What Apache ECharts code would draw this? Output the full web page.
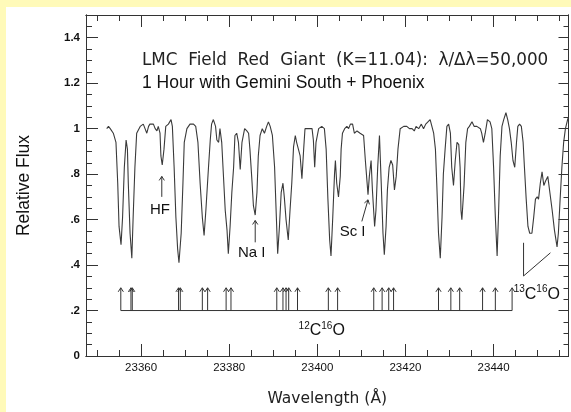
<!DOCTYPE html>
<html>
<head>
<meta charset="utf-8">
<script src="https://cdn.jsdelivr.net/npm/echarts@6/dist/echarts.min.js"></script>
<style>
html,body{margin:0;padding:0;background:#fffab9;width:571px;height:412px;overflow:hidden;}
#chart{position:absolute;left:6px;top:7px;width:565px;height:405px;background:#fff;}
</style>
</head>
<body>
<div id="chart"></div>
<script>
// ---- data ----
const wavelength = [23352.2,23352.6,23353.0,23353.7,23354.3,23354.7,23355.0,23355.45,23355.8,23356.2,23356.6,23356.9,23357.1,23357.5,23357.9,23358.2,23358.6,23359.0,23359.8,23360.5,23360.9,23361.3,23361.7,23362.0,23362.8,23363.2,23363.6,23363.9,23364.3,23364.5,23364.8,23365.2,23365.6,23366.2,23366.8,23367.1,23367.5,23367.9,23368.3,23368.6,23369.1,23369.5,23369.8,23370.4,23371.1,23371.9,23372.4,23372.9,23373.4,23373.9,23374.3,23374.7,23375.3,23375.7,23376.0,23376.4,23376.9,23377.2,23377.6,23377.9,23378.3,23378.7,23379.1,23379.5,23379.8,23380.2,23380.6,23381.0,23381.3,23381.7,23382.1,23382.5,23382.9,23383.5,23384.0,23384.4,23384.7,23385.1,23385.5,23385.9,23386.3,23386.6,23387.0,23387.5,23388.0,23388.5,23388.9,23389.3,23389.8,23390.3,23390.7,23391.0,23391.4,23391.8,23392.2,23392.5,23392.9,23393.4,23393.8,23394.2,23394.6,23395.0,23395.3,23395.7,23396.1,23396.5,23396.9,23397.2,23398.0,23398.8,23399.1,23399.4,23399.7,23400.3,23401.0,23401.6,23402.0,23402.4,23402.8,23403.1,23403.5,23403.9,23404.1,23404.4,23404.8,23405.2,23405.4,23405.7,23406.2,23406.7,23407.1,23407.5,23408.0,23408.4,23409.0,23409.7,23410.5,23410.9,23411.3,23411.5,23411.8,23412.2,23412.5,23413.0,23413.3,23413.7,23414.1,23414.5,23414.9,23415.2,23415.6,23415.9,23416.3,23416.7,23417.1,23417.5,23417.9,23418.3,23418.8,23419.6,23420.3,23420.9,23421.5,23422.0,23422.4,23423.0,23423.6,23424.1,23424.6,23425.6,23426.0,23426.4,23426.8,23427.1,23427.5,23427.9,23428.3,23428.6,23429.0,23429.4,23429.8,23430.2,23430.5,23430.9,23431.3,23431.7,23432.1,23432.4,23432.6,23432.8,23433.3,23433.7,23434.1,23434.5,23435.1,23435.6,23436.2,23437.0,23437.3,23437.7,23438.1,23438.6,23439.2,23439.6,23440.0,23440.4,23440.8,23441.1,23441.5,23441.9,23442.3,23442.8,23443.2,23443.6,23444.0,23444.4,23444.8,23445.2,23445.5,23445.9,23446.3,23446.7,23447.0,23447.4,23447.8,23448.2,23448.7,23449.1,23449.5,23449.9,23450.2,23450.6,23451.0,23451.4,23451.8,23452.3,23452.7,23453.3,23453.8,23454.4,23454.7,23455.1,23455.5,23455.9,23456.3,23456.8,23457.0];
const flux = [1.00,1.01,1.00,0.98,0.94,0.76,0.57,0.49,0.61,0.83,0.95,0.91,0.76,0.54,0.43,0.61,0.83,0.98,1.01,1.02,1.00,0.98,1.01,1.02,1.02,1.00,0.99,1.01,0.98,0.88,0.84,0.91,1.01,1.02,1.04,1.01,0.83,0.61,0.47,0.41,0.54,0.76,0.94,1.00,1.02,1.02,1.01,0.94,0.76,0.61,0.53,0.64,0.83,0.95,1.02,1.04,1.01,0.95,0.94,1.00,0.94,0.79,0.64,0.555,0.45,0.57,0.72,0.83,0.97,0.98,0.94,0.82,0.94,1.00,0.99,0.98,0.91,0.79,0.66,0.62,0.72,0.88,0.97,1.00,0.98,1.01,1.03,1.01,0.97,0.83,0.61,0.45,0.57,0.72,0.76,0.70,0.60,0.51,0.64,0.76,0.92,0.97,0.94,0.91,0.88,0.78,0.91,1.00,1.00,1.00,0.95,0.83,0.94,1.00,1.01,1.00,0.91,0.69,0.51,0.44,0.61,0.80,0.86,0.76,0.70,0.79,0.91,0.98,1.00,1.01,1.00,1.02,1.02,0.98,0.99,0.98,0.97,0.86,0.76,0.71,0.79,0.86,0.73,0.57,0.64,0.83,0.97,0.76,0.54,0.445,0.57,0.73,0.83,0.86,0.84,0.73,0.79,0.91,1.00,1.01,1.01,1.00,1.00,0.99,1.01,1.00,1.02,1.00,1.02,1.04,1.01,0.98,0.91,0.76,0.54,0.43,0.61,0.80,0.91,1.01,1.02,0.98,0.83,0.75,0.86,0.94,0.93,0.83,0.64,0.60,0.75,0.94,1.00,1.01,1.03,1.01,1.01,1.00,0.98,0.94,0.98,1.04,1.03,1.00,0.83,0.61,0.44,0.61,0.88,1.01,1.04,1.07,1.04,1.00,0.94,0.86,0.83,0.94,1.01,1.02,1.01,0.94,0.83,0.69,0.57,0.54,0.54,0.61,0.69,0.70,0.69,0.76,0.81,0.75,0.77,0.79,0.73,0.64,0.555,0.48,0.54,0.69,0.83,0.94,1.00,1.04,1.05];

// 12C16O line positions (arrows) and the marker levels
const coLineX = [23355.4,23357.7,23358.0,23368.5,23368.9,23373.9,23375.1,23379.3,23380.4,23390.8,23392.2,23392.9,23393.5,23395.5,23402.5,23404.6,23412.8,23414.7,23416.2,23417.3,23427.5,23430.3,23432.3,23437.5,23440.4,23444.2];
const coBaseY = 0.2;
const coTopY = 0.3;

// feature arrows: [x1, y1, x2, y2]
const featureArrows = [
  [23364.7, 0.70, 23364.7, 0.79],
  [23385.9, 0.50, 23385.9, 0.596],
  [23410.1, 0.592, 23411.5, 0.687]
];
// 13C16O bracket
const bracket13 = [[23446.8, 0.498], [23446.8, 0.352], [23452.9, 0.454]];

// annotation labels
const labelText = ['HF', 'Na I', 'Sc I', '{s|12}{b|C}{s|16}{b|O}', '{s|13}{b|C}{s|16}{b|O}'];
const labelX = [23364.3, 23385.1, 23408.0, 23401.0, 23449.8];
const labelY = [0.643, 0.454, 0.548, 0.115, 0.275];

// axes
const xMin = 23347.5, xMax = 23457;
const yMin = 0, yMax = 1.5;
const xMajor = [23360, 23380, 23400, 23420, 23440];
const xMinor = [23350,23355,23360,23365,23370,23375,23380,23385,23390,23395,23400,23405,23410,23415,23420,23425,23430,23435,23440,23445,23450,23455];
const yMajor = [0, 0.2, 0.4, 0.6, 0.8, 1, 1.2, 1.4];
const yMinor = [0,0.05,0.1,0.15,0.2,0.25,0.3,0.35,0.4,0.45,0.5,0.55,0.6,0.65,0.7,0.75,0.8,0.85,0.9,0.95,1,1.05,1.1,1.15,1.2,1.25,1.3,1.35,1.4,1.45];
const xTickLabels = ['23360', '23380', '23400', '23420', '23440'];
const yTickLabels = ['0', '.2', '.4', '.6', '.8', '1', '1.2', '1.4'];

const titleLine1 = 'LMC  Field  Red  Giant  (K=11.04):  λ/Δλ=50,000';
const titleLine2 = '1 Hour with Gemini South + Phoenix';

// ---- chart ----
const ink = '#222';
const chart = echarts.init(document.getElementById('chart'), null, {renderer: 'canvas'});

function findLabel(list, labels, v) {
  const i = list.findIndex(m => Math.abs(m - v) < 1e-6);
  return i >= 0 ? labels[i] : '';
}

function xAxisDef(pos, ticks, len, withLabel, extra) {
  return Object.assign({
    type: 'value', min: xMin, max: xMax, position: pos,
    axisLine: {show: true, onZero: false, lineStyle: {color: '#333', width: 1}},
    axisTick: {show: true, inside: true, length: len, customValues: ticks, lineStyle: {color: '#333', width: 1}},
    axisLabel: withLabel ? {show: true, customValues: xMajor, margin: 6, fontSize: 11.5, color: '#111', fontFamily: 'Liberation Sans',
      formatter: v => findLabel(xMajor, xTickLabels, v)} : {show: false},
    splitLine: {show: false}
  }, extra || {});
}
function yAxisDef(pos, ticks, len, withLabel, extra) {
  return Object.assign({
    type: 'value', min: yMin, max: yMax, position: pos,
    axisLine: {show: true, onZero: false, lineStyle: {color: '#333', width: 1}},
    axisTick: {show: true, inside: true, length: len, customValues: ticks, lineStyle: {color: '#333', width: 1}},
    axisLabel: withLabel ? {
      show: true, customValues: yMajor, margin: 6, fontSize: 11.5, color: '#111', fontWeight: 'bold', fontFamily: 'Liberation Sans',
      formatter: v => findLabel(yMajor, yTickLabels, v)
    } : {show: false},
    splitLine: {show: false}
  }, extra || {});
}

function arrowRender(params, api) {
  const a = api.coord([api.value(0), api.value(1)]);
  const b = api.coord([api.value(2), api.value(3)]);
  const dx = b[0] - a[0], dy = b[1] - a[1];
  const L = Math.hypot(dx, dy) || 1;
  const ux = dx / L, uy = dy / L;
  const h = 4, w = 2.6;
  const p1 = [b[0] - ux * h - uy * w, b[1] - uy * h + ux * w];
  const p2 = [b[0] - ux * h + uy * w, b[1] - uy * h - ux * w];
  return {
    type: 'group',
    children: [
      {type: 'line', shape: {x1: a[0], y1: a[1], x2: b[0], y2: b[1]}, style: {stroke: '#333', lineWidth: 1}},
      {type: 'polyline', shape: {points: [p1, b, p2]}, style: {stroke: '#333', fill: null, lineWidth: 1}}
    ]
  };
}

const option = {
  backgroundColor: '#fff',
  animation: false,
  title: [
    {text: titleLine1, left: 136, top: 45, padding: 0,
     textStyle: {fontFamily: 'DejaVu Sans', fontSize: 16.8, fontWeight: 'normal', color: ink, lineHeight: 17}},
    {text: titleLine2, left: 136, top: 67, padding: 0,
     textStyle: {fontFamily: 'Liberation Sans', fontSize: 17.5, fontWeight: 'normal', color: '#111', lineHeight: 18}}
  ],
  grid: {left: 80, right: 2.5, top: 8, bottom: 56, containLabel: false},
  xAxis: [
    xAxisDef('bottom', xMajor, 12, true, {name: 'Wavelength (Å)', nameLocation: 'middle', nameGap: 35,
      nameTextStyle: {fontFamily: 'DejaVu Sans', fontSize: 15.5, color: ink}}),
    xAxisDef('bottom', xMinor, 6, false),
    xAxisDef('top', xMajor, 12, false),
    xAxisDef('top', xMinor, 6, false)
  ],
  yAxis: [
    yAxisDef('left', yMajor, 12, true, {name: 'Relative Flux', nameLocation: 'middle', nameGap: 53, nameRotate: 90,
      nameTextStyle: {fontFamily: 'Liberation Sans', fontSize: 17.5, color: '#111'}}),
    yAxisDef('left', yMinor, 6, false),
    yAxisDef('right', yMajor, 10, false),
    yAxisDef('right', yMinor, 5, false)
  ],
  series: [
    {
      type: 'line', name: 'spectrum', xAxisIndex: 0, yAxisIndex: 0,
      data: wavelength.map((w, i) => [w, flux[i]]),
      showSymbol: false, symbol: 'none', smooth: false,
      lineStyle: {color: '#3a3a3a', width: 1.1}, clip: true
    },
    {
      type: 'line', name: '12C16O', xAxisIndex: 0, yAxisIndex: 0,
      data: [[coLineX[0], coBaseY], [coLineX[coLineX.length - 1], coBaseY]],
      symbol: 'none', lineStyle: {color: '#333', width: 1}
    },
    {
      type: 'custom', name: 'coArrows', xAxisIndex: 0, yAxisIndex: 0,
      data: coLineX.map(x => [x, coBaseY, x, coTopY]),
      renderItem: arrowRender
    },
    {
      type: 'custom', name: 'featureArrows', xAxisIndex: 0, yAxisIndex: 0,
      data: featureArrows,
      renderItem: arrowRender
    },
    {
      type: 'line', name: '13C16O', xAxisIndex: 0, yAxisIndex: 0,
      data: bracket13, symbol: 'none', lineStyle: {color: '#333', width: 1}
    },
    {
      type: 'custom', name: 'labels', xAxisIndex: 0, yAxisIndex: 0,
      data: labelX.map((x, i) => [x, labelY[i]]),
      renderItem: function (params, api) {
        const p = api.coord([api.value(0), api.value(1)]);
        const t = labelText[params.dataIndex];
        const isRich = t.indexOf('{') >= 0;
        return {
          type: 'text', x: p[0], y: p[1],
          style: {
            text: t, fill: '#111', fontFamily: 'Liberation Sans', fontSize: 15,
            align: 'center', verticalAlign: 'middle',
            rich: isRich ? {
              s: {fontSize: 10, fontFamily: 'Liberation Sans', fill: '#111', verticalAlign: 'top', lineHeight: 18},
              b: {fontSize: 16, fontFamily: 'Liberation Sans', fill: '#111', verticalAlign: 'bottom', lineHeight: 18}
            } : undefined
          }
        };
      }
    }
  ]
};
chart.setOption(option);
</script>
</body>
</html>
